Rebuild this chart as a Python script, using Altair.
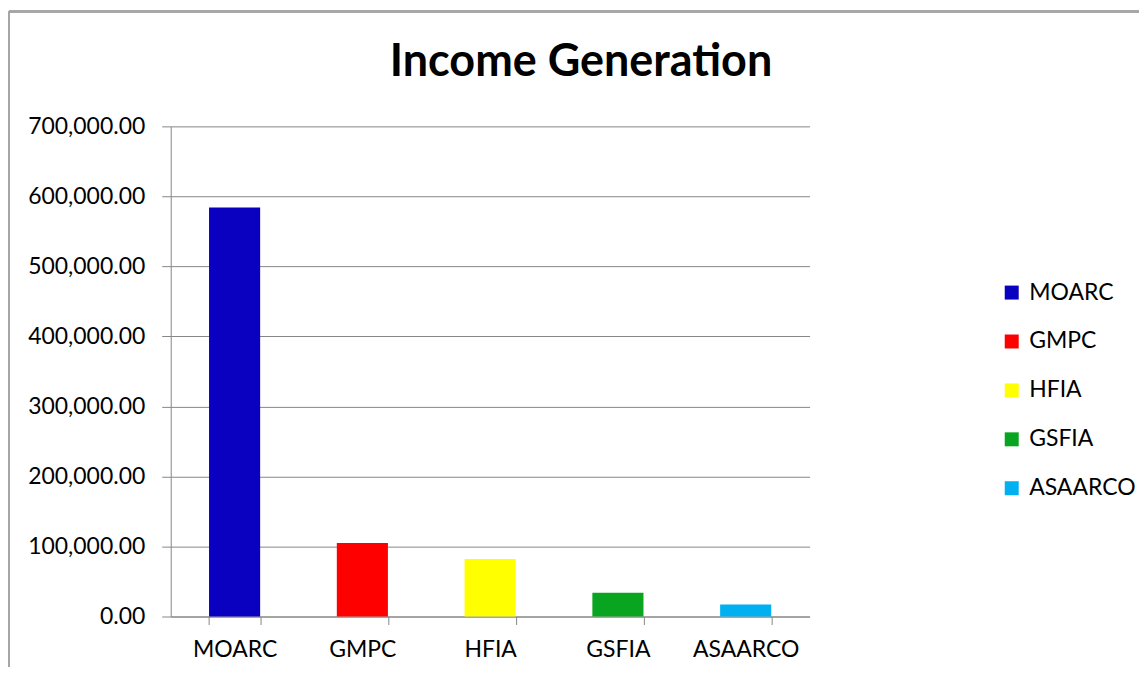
import altair as alt
import pandas as pd

categories = ["MOARC", "GMPC", "HFIA", "GSFIA", "ASAARCO"]
values = [584000, 105000, 82000, 34000, 17000]
colors = ["#0A00BF", "#FF0000", "#FFFF00", "#0AA520", "#00B0F0"]
y_ticks = [0, 100000, 200000, 300000, 400000, 500000, 600000, 700000]

df = pd.DataFrame({"org": categories, "income": values})

FONT = "Lato"
GRID = "#878787"

bars = alt.Chart(df).mark_bar().encode(
    x=alt.X(
        "org:N",
        sort=categories,
        scale=alt.Scale(paddingInner=0.6, paddingOuter=0.3),
        axis=alt.Axis(
            title=None,
            labelAngle=0,
            labelFont=FONT,
            labelFontSize=23,
            labelColor="#000000",
            labelPadding=14,
            tickBand="extent",
            tickSize=8,
            tickColor=GRID,
            domainColor=GRID,
            grid=False,
        ),
    ),
    y=alt.Y(
        "income:Q",
        scale=alt.Scale(domain=[0, 700000], nice=False),
        axis=alt.Axis(
            title=None,
            values=y_ticks,
            format=",.2f",
            labelFont=FONT,
            labelFontSize=23,
            labelColor="#000000",
            labelPadding=17,
            tickSize=9,
            tickColor=GRID,
            domainColor=GRID,
            gridColor=GRID,
            gridOpacity=1,
        ),
    ),
    color=alt.Color(
        "org:N",
        sort=categories,
        scale=alt.Scale(domain=categories, range=colors),
        legend=alt.Legend(
            title=None,
            orient="none",
            legendX=831,
            legendY=155,
            symbolType="square",
            symbolSize=196,
            symbolStrokeWidth=0,
            labelFont=FONT,
            labelFontSize=23,
            labelColor="#000000",
            rowPadding=25,
            labelOffset=6,
        ),
    ),
)

frame_top = alt.Chart(df).mark_rule(color="#a6a6a6", strokeWidth=2).encode(
    x=alt.value(-162), x2=alt.value(980), y=alt.value(-115)
)
frame_left = alt.Chart(df).mark_rule(color="#a6a6a6", strokeWidth=2).encode(
    x=alt.value(-162), y=alt.value(-115), y2=alt.value(560)
)

chart = alt.layer(bars, frame_top, frame_left).properties(
    width=640,
    height=491,
    title=alt.TitleParams(
        "Income Generation",
        font=FONT,
        fontSize=45,
        fontWeight="bold",
        color="#000000",
        anchor="middle",
        frame="group",
        dx=91,
        dy=75,
        offset=0,
    ),
    autosize=alt.AutoSizeParams(type="none"),
    padding={"left": 163, "top": 118, "right": 330, "bottom": 50},
).configure_view(strokeWidth=0)

chart.save("out.html", embed_options={"renderer": "svg", "actions": False})
